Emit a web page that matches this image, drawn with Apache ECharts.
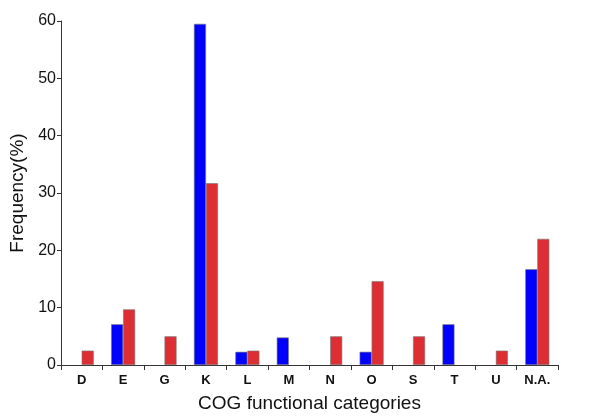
<!DOCTYPE html>
<html>
<head>
<meta charset="utf-8">
<script src="https://cdn.jsdelivr.net/npm/echarts@6/dist/echarts.min.js"></script>
<style>html,body{margin:0;padding:0;background:#fff}#c{width:600px;height:420px}</style>
</head>
<body>
<div id="c"></div>
<script>
const categories = ["D","E","G","K","L","M","N","O","S","T","U","N.A."];
const blueValues = [0, 7.1, 0, 59.5, 2.3, 4.8, 0, 2.3, 0, 7.1, 0, 16.7];
const redValues = [2.5, 9.7, 5.0, 31.7, 2.5, 0, 5.0, 14.6, 5.0, 0, 2.5, 22.0];
const yTicks = [0, 10, 20, 30, 40, 50, 60];

const font = "'Liberation Sans', Arial, sans-serif";
const hideZero = arr => arr.map(v => (v === 0 ? '-' : v));
const chart = echarts.init(document.getElementById('c'), null, {renderer: 'canvas'});
chart.setOption({
  animation: false,
  backgroundColor: '#fff',
  grid: {left: 60, right: 42, top: 21, bottom: 55, containLabel: false},
  xAxis: {
    type: 'category',
    data: categories,
    name: 'COG functional categories',
    nameLocation: 'middle',
    nameGap: 29,
    nameTextStyle: {fontFamily: font, fontSize: 19, color: '#111'},
    axisLine: {lineStyle: {color: '#333', width: 1}},
    axisTick: {show: true, alignWithLabel: false, length: 5, lineStyle: {color: '#333'}},
    axisLabel: {fontFamily: font, fontSize: 13, fontWeight: 'bold', color: '#111', margin: 9},
    splitLine: {show: false}
  },
  yAxis: {
    type: 'value',
    min: yTicks[0],
    max: yTicks[yTicks.length - 1],
    interval: 10,
    name: 'Frequency(%)',
    nameLocation: 'middle',
    nameGap: 34,
    nameTextStyle: {fontFamily: font, fontSize: 19, color: '#111'},
    axisLine: {show: true, lineStyle: {color: '#333', width: 1}},
    axisTick: {show: true, length: 4, lineStyle: {color: '#333'}},
    axisLabel: {fontFamily: font, fontSize: 16, color: '#111', margin: 5},
    splitLine: {show: false}
  },
  series: [
    {
      type: 'bar',
      data: hideZero(blueValues),
      barWidth: 12,
      barGap: '0%',
      itemStyle: {color: '#0000FF', borderColor: '#777', borderWidth: 0.6}
    },
    {
      type: 'bar',
      data: hideZero(redValues),
      barWidth: 12,
      barGap: '0%',
      itemStyle: {color: '#DD2E33', borderColor: '#777', borderWidth: 0.6}
    }
  ]
});
</script>
</body>
</html>
